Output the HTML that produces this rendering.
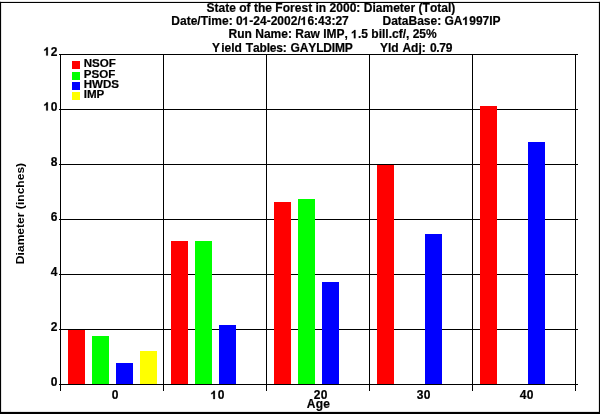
<!DOCTYPE html>
<html><head><meta charset="utf-8"><title>State of the Forest</title>
<style>
html,body{margin:0;padding:0;background:#fff;}
body{width:600px;height:414px;overflow:hidden;position:relative;font-family:"Liberation Sans",sans-serif;}
svg{position:absolute;left:0;top:0;display:block;will-change:transform;}
text{font-kerning:none;font-family:"Liberation Sans",sans-serif;font-weight:bold;font-size:12px;fill:#000;stroke:#000;stroke-width:0.2px;}
tspan.o{fill:none;stroke:none;}
path.o{fill:#000;stroke:#000;stroke-width:34.1;}
</style></head><body>
<svg width="600" height="414" viewBox="0 0 600 414">
<rect x="0" y="0" width="600" height="414" fill="#fff"/>
<g fill="#000">
<rect x="0" y="1.9" width="600" height="1.1"/>
<rect x="0" y="1.85" width="1.1" height="412.15"/>
<rect x="598.9" y="1.85" width="1.1" height="412.15"/>
<rect x="0" y="411.9" width="600" height="2.1"/>
</g>
<g shape-rendering="crispEdges" fill="#000">
<rect x="59" y="54" width="519" height="1"/>
<rect x="59" y="109" width="519" height="1"/>
<rect x="59" y="164" width="519" height="1"/>
<rect x="59" y="219" width="519" height="1"/>
<rect x="59" y="274" width="519" height="1"/>
<rect x="59" y="329" width="519" height="1"/>
<rect x="59" y="384" width="519" height="1"/>
<rect x="60" y="54" width="1" height="337"/>
<rect x="163" y="54" width="1" height="337"/>
<rect x="266" y="54" width="1" height="337"/>
<rect x="369" y="54" width="1" height="337"/>
<rect x="472" y="54" width="1" height="337"/>
<rect x="575" y="54" width="1" height="337"/>
</g>
<g shape-rendering="crispEdges">
<rect x="68" y="330" width="17" height="54" fill="#ff0000"/>
<rect x="92" y="336" width="17" height="48" fill="#00ff00"/>
<rect x="116" y="363" width="17" height="21" fill="#0000ff"/>
<rect x="140" y="351" width="17" height="33" fill="#ffff00"/>
<rect x="171" y="241" width="17" height="143" fill="#ff0000"/>
<rect x="195" y="241" width="17" height="143" fill="#00ff00"/>
<rect x="219" y="325" width="17" height="59" fill="#0000ff"/>
<rect x="274" y="202" width="17" height="182" fill="#ff0000"/>
<rect x="298" y="199" width="17" height="185" fill="#00ff00"/>
<rect x="322" y="282" width="17" height="102" fill="#0000ff"/>
<rect x="377" y="165" width="17" height="219" fill="#ff0000"/>
<rect x="425" y="234" width="17" height="150" fill="#0000ff"/>
<rect x="480" y="106" width="17" height="278" fill="#ff0000"/>
<rect x="528" y="142" width="17" height="242" fill="#0000ff"/>
<rect x="72" y="61" width="8" height="8" fill="#ff0000"/>
<rect x="72" y="72" width="8" height="8" fill="#00ff00"/>
<rect x="72" y="82" width="8" height="8" fill="#0000ff"/>
<rect x="72" y="92" width="8" height="8" fill="#ffff00"/>
</g>
<g transform="translate(83.7,67.0) scale(0.965,0.96)"><text id="t0" xml:space="preserve">NSOF</text></g>
<g transform="translate(83.7,77.7) scale(0.965,0.96)"><text id="t1" xml:space="preserve">PSOF</text></g>
<g transform="translate(83.7,87.7) scale(0.965,0.96)"><text id="t2" xml:space="preserve">HWDS</text></g>
<g transform="translate(83.7,97.9) scale(0.965,0.96)"><text id="t3" xml:space="preserve">IMP</text></g>
<g transform="translate(58,55.6)"><text id="t4" text-anchor="end" letter-spacing="0.5" xml:space="preserve"><tspan class="o">1</tspan>2</text><path class="o" d="M790 0H509V1010Q360 873 160 807V1050Q265 1085 390 1181T560 1409H790Z" transform="translate(-14.78,0.00) scale(0.005859,-0.005859)"/></g>
<g transform="translate(58,110.6)"><text id="t5" text-anchor="end" letter-spacing="0.5" xml:space="preserve"><tspan class="o">1</tspan>0</text><path class="o" d="M790 0H509V1010Q360 873 160 807V1050Q265 1085 390 1181T560 1409H790Z" transform="translate(-14.78,0.00) scale(0.005859,-0.005859)"/></g>
<g transform="translate(58,165.6)"><text id="t6" text-anchor="end" letter-spacing="0.5" xml:space="preserve">8</text></g>
<g transform="translate(58,220.6)"><text id="t7" text-anchor="end" letter-spacing="0.5" xml:space="preserve">6</text></g>
<g transform="translate(58,275.6)"><text id="t8" text-anchor="end" letter-spacing="0.5" xml:space="preserve">4</text></g>
<g transform="translate(58,330.6)"><text id="t9" text-anchor="end" letter-spacing="0.5" xml:space="preserve">2</text></g>
<g transform="translate(58,385.6)"><text id="t10" text-anchor="end" letter-spacing="0.5" xml:space="preserve">0</text></g>
<g transform="translate(115.15,399.1)"><text id="t11" text-anchor="middle" letter-spacing="0.3" xml:space="preserve">0</text></g>
<g transform="translate(217.65,399.1)"><text id="t12" text-anchor="middle" letter-spacing="0.3" xml:space="preserve"><tspan class="o">1</tspan>0</text><path class="o" d="M790 0H509V1010Q360 873 160 807V1050Q265 1085 390 1181T560 1409H790Z" transform="translate(-7.38,0.00) scale(0.005859,-0.005859)"/></g>
<g transform="translate(320.65,399.1)"><text id="t13" text-anchor="middle" letter-spacing="0.3" xml:space="preserve">20</text></g>
<g transform="translate(423.65,399.1)"><text id="t14" text-anchor="middle" letter-spacing="0.3" xml:space="preserve">30</text></g>
<g transform="translate(526.65,399.1)"><text id="t15" text-anchor="middle" letter-spacing="0.3" xml:space="preserve">40</text></g>
<g transform="translate(318.4,407.6)"><text id="t16" text-anchor="middle" letter-spacing="0.2" xml:space="preserve">Age</text></g>
<g transform="translate(24.4,213.5) rotate(-90) scale(1,0.93)"><text id="t17" text-anchor="middle" letter-spacing="0.04" style="stroke:none" xml:space="preserve">Diameter (inches)</text></g>
<g transform="translate(330.9,11.7)"><text id="t18" text-anchor="middle" letter-spacing="0.02" xml:space="preserve">State of the Forest in 2000: Diameter (Total)</text></g>
<g transform="translate(171.3,24.9)"><text id="t19" xml:space="preserve">Date/Time: 0<tspan class="o">1</tspan>-24-2002/<tspan class="o">1</tspan>6:43:27</text><path class="o" d="M790 0H509V1010Q360 873 160 807V1050Q265 1085 390 1181T560 1409H790Z" transform="translate(70.96,0.00) scale(0.005859,-0.005859)"/><path class="o" d="M790 0H509V1010Q360 873 160 807V1050Q265 1085 390 1181T560 1409H790Z" transform="translate(129.02,0.00) scale(0.005859,-0.005859)"/></g>
<g transform="translate(382.5,24.9)"><text id="t20" xml:space="preserve">DataBase: GA<tspan class="o">1</tspan>997IP</text><path class="o" d="M790 0H509V1010Q360 873 160 807V1050Q265 1085 390 1181T560 1409H790Z" transform="translate(79.63,0.00) scale(0.005859,-0.005859)"/></g>
<g transform="translate(228.6,38.2)"><text id="t21" xml:space="preserve">Run Name: Raw IMP, <tspan class="o">1</tspan>.5 bill.cf/, 25%</text><path class="o" d="M790 0H509V1010Q360 873 160 807V1050Q265 1085 390 1181T560 1409H790Z" transform="translate(122.29,0.00) scale(0.005859,-0.005859)"/></g>
<g transform="translate(212,52)"><text id="t22" xml:space="preserve">Y<tspan dx="1.2">ield</tspan> <tspan dx="0.6" letter-spacing="-0.17">Tables:</tspan> <tspan dx="0.6" letter-spacing="-0.15">GAYLDIMP</tspan></text></g>
<g transform="translate(380,52)"><text id="t23" xml:space="preserve">Yld <tspan dx="0.4">Adj:</tspan> <tspan dx="0.8" letter-spacing="-0.3">0.79</tspan></text></g>
</svg></body></html>
